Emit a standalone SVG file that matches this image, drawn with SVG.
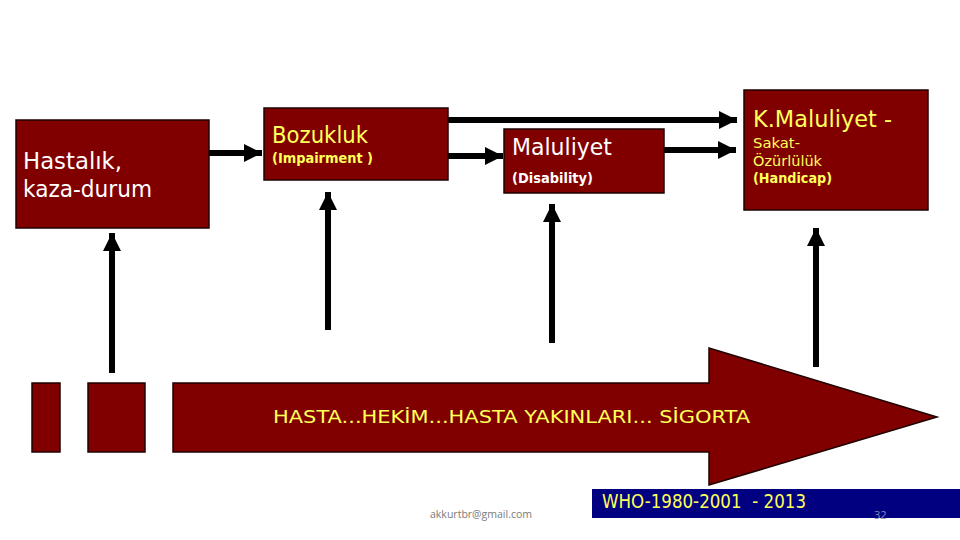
<svg xmlns="http://www.w3.org/2000/svg" width="960" height="540" viewBox="0 0 960 540">
<defs>
<style>
.box{fill:#800000;stroke:#1e0000;stroke-width:1.5}
.t{font-family:"DejaVu Sans","Liberation Sans",sans-serif}
.w{fill:#ffffff}
.y{fill:#ffff5a}
.b{font-weight:bold}
.ln{stroke:#000;stroke-width:6;fill:none}
</style>
<marker id="ah" markerUnits="userSpaceOnUse" markerWidth="20" markerHeight="20" viewBox="0 0 20 20" refX="18" refY="10" orient="auto">
<path d="M0,1 L18,10 L0,19 Z" fill="#000"/>
</marker>
</defs>
<rect width="960" height="540" fill="#ffffff"/>

<g id="connectors">
<path class="ln" d="M209,153 H262" marker-end="url(#ah)"/>
<path class="ln" d="M448,120 H737" marker-end="url(#ah)"/>
<path class="ln" d="M448,156 H503" marker-end="url(#ah)"/>
<path class="ln" d="M664,150 H736" marker-end="url(#ah)"/>
<path class="ln" d="M112,373 V233" marker-end="url(#ah)"/>
<path class="ln" d="M328,330 V192" marker-end="url(#ah)"/>
<path class="ln" d="M552,343 V204" marker-end="url(#ah)"/>
<path class="ln" d="M816,367 V228" marker-end="url(#ah)"/>
</g>

<g id="hastalik">
<rect class="box" x="16" y="120" width="193" height="108"/>
<text class="t w" x="23" y="169" font-size="22.5" textLength="99" lengthAdjust="spacingAndGlyphs">Hastalık,</text>
<text class="t w" x="23" y="197" font-size="22.5" textLength="129" lengthAdjust="spacingAndGlyphs">kaza-durum</text>
</g>

<g id="bozukluk">
<rect class="box" x="264" y="108" width="184" height="72"/>
<text class="t y" x="272" y="143" font-size="22.5" textLength="96" lengthAdjust="spacingAndGlyphs">Bozukluk</text>
<text class="t y b" x="272" y="163" font-size="14" textLength="101" lengthAdjust="spacingAndGlyphs">(Impairment )</text>
</g>

<g id="maluliyet">
<rect class="box" x="504" y="129" width="160" height="64"/>
<text class="t w" x="512" y="155" font-size="22.5" textLength="100" lengthAdjust="spacingAndGlyphs">Maluliyet</text>
<text class="t w b" x="512" y="183" font-size="14" textLength="81" lengthAdjust="spacingAndGlyphs">(Disability)</text>
</g>

<g id="kmaluliyet">
<rect class="box" x="744" y="90" width="184" height="120"/>
<text class="t y" x="753" y="127" font-size="22.5" textLength="139" lengthAdjust="spacingAndGlyphs">K.Maluliyet -</text>
<text class="t y" x="753" y="148" font-size="14" textLength="47" lengthAdjust="spacingAndGlyphs">Sakat-</text>
<text class="t y" x="753" y="166" font-size="14" textLength="69" lengthAdjust="spacingAndGlyphs">Özürlülük</text>
<text class="t y b" x="753" y="183" font-size="14" textLength="79" lengthAdjust="spacingAndGlyphs">(Handicap)</text>
</g>

<g id="blocks">
<rect class="box" x="32" y="383" width="28" height="69"/>
<rect class="box" x="88" y="383" width="57" height="69"/>
</g>

<g id="bigarrow">
<polygon class="box" stroke-width="2" points="173,383 709,383 709,348 937,417 709,485 709,452 173,452"/>
<text class="t y" x="273" y="423" font-size="18" textLength="477" lengthAdjust="spacingAndGlyphs">HASTA...HEKİM...HASTA YAKINLARI... SİGORTA</text>
</g>

<g id="footer">
<rect x="592" y="489" width="368" height="29" fill="#000080"/>
<text class="t y" x="602" y="508" font-size="19" textLength="204" lengthAdjust="spacingAndGlyphs" xml:space="preserve">WHO-1980-2001  - 2013</text>
<text x="874" y="519" font-family="'Open Sans','Liberation Sans',sans-serif" font-size="11" fill="#8a8fb4">32</text>
<text x="430" y="518" font-family="'Open Sans','Liberation Sans',sans-serif" font-size="11" fill="#7a7a7a" textLength="102" lengthAdjust="spacingAndGlyphs">akkurtbr@gmail.com</text>
</g>
</svg>
